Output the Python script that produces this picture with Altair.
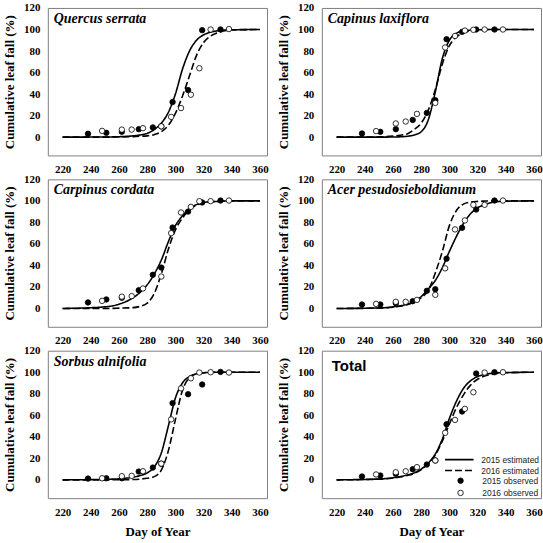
import altair as alt
import pandas as pd

# ---------------- data ----------------
panel_names = ["Quercus serrata", "Capinus laxiflora", "Carpinus cordata",
               "Acer pesudosieboldianum", "Sorbus alnifolia", "Total"]

x_ticks = [220, 240, 260, 280, 300, 320, 340, 360]
y_ticks = [0, 20, 40, 60, 80, 100, 120]

days_2015 = [238, 251, 262, 274, 284, 290, 298, 309, 319, 332]
days_2016 = [248, 262, 269, 277, 290, 297, 304, 311, 317, 325, 338]

curve_days = [220, 250, 260, 270, 275, 280, 285, 290, 295, 300, 305, 310,
              315, 320, 325, 330, 340, 360]

qs_est15 = [0, 0.1, 0.4, 1.2, 2, 3.5, 7, 13, 23, 40, 63, 80, 90, 95, 97.5, 98.8, 99.7, 100]
qs_est16 = [0, 0, 0.2, 0.5, 0.8, 1.2, 2.3, 5, 11, 22, 38, 57, 76, 88, 94, 97, 99.5, 100]
qs_obs15 = [3.1, 4, 5, 7.4, 9, 10, 32.6, 43.7, 99.4, 100]
qs_obs16 = [5.8, 7, 7, 8.3, 10, 18.8, 27, 39.4, 64, 100, 100.4]

cl_est15 = [0, 0, 0.1, 0.8, 2, 5, 16, 42, 73, 90, 96.5, 98.7, 99.4, 99.7, 99.9, 100, 100, 100]
cl_est16 = [0, 0.2, 1, 3, 7, 13, 25, 44, 68, 85, 93, 97, 98.8, 99.5, 99.8, 100, 100, 100]
cl_obs15 = [3.4, 4.9, 7.4, 16, 22.5, 34.3, 91, 97.8, 100, 100]
cl_obs16 = [5.6, 12.7, 14.5, 21.6, 31.8, 83.3, 94, 99, 99.7, 100, 100]

cc_est15 = [0, 1.5, 4, 10, 15, 22, 32, 45, 62, 77, 86, 93, 96.5, 98.5, 99.2, 99.5, 100, 100]
cc_est16 = [0, 0, 0.3, 0.8, 2, 5, 14, 32, 55, 73, 84, 92, 96, 98, 99, 99.5, 100, 100]
cc_obs15 = [5.6, 8.4, 10, 17, 31.3, 38, 75.2, 90, 98.5, 100.3]
cc_obs16 = [7.1, 11, 11.5, 18.6, 29.7, 70, 89.2, 94.4, 99.7, 99.7, 100.3]

ap_est15 = [0, 0.5, 1.5, 4, 6.5, 11, 18, 26, 38, 53, 67, 79, 88, 93.5, 96.5, 98.5, 99.7, 100]
ap_est16 = [0, 0.3, 1.2, 3.5, 6, 10, 17, 33, 53, 77, 91, 97, 98.8, 99.5, 99.8, 100, 100, 100]
ap_obs15 = [3.7, 3.7, 4.9, 6.8, 16.4, 17.9, 46.3, 75, 92, 100.3]
ap_obs16 = [4.3, 6.2, 6.2, 8, 12.7, 37.3, 73.5, 81.8, 96.3, 96.3, 100.3]

sa_est15 = [0, 0.5, 1, 2.5, 4, 6.5, 12, 25, 50, 76, 90, 96, 98.5, 99.5, 99.8, 100, 100, 100]
sa_est16 = [0, 0, 0.1, 0.3, 0.7, 1.5, 3, 9, 27, 56, 83, 95, 98.5, 99.5, 99.8, 100, 100, 100]
sa_obs15 = [1.2, 1.5, 1.5, 7.7, 11.4, 15, 71.3, 79.6, 88.6, 100.3]
sa_obs16 = [1.5, 3.4, 3.7, 8, 15.1, 56.2, 85, 94.4, 99.7, 100, 99.7]

tot_est15 = [0, 0.8, 2, 4.5, 6.5, 10, 15.5, 24, 38, 57, 73, 85, 92, 96, 98, 99, 99.7, 100]
tot_est16 = [0, 0.6, 1.7, 4, 6, 9.5, 15, 23, 36, 52, 67, 79, 88, 93.5, 96.5, 98, 99.5, 100]
tot_obs15 = [3.1, 4, 5.6, 9.9, 14.2, 18, 51.7, 63.5, 98.8, 100]
tot_obs16 = [5, 7.1, 8, 11.8, 18, 43.7, 55.7, 66, 81.4, 99.7, 100]

line_series = ["2015 estimated", "2016 estimated"]
point_series = ["2015 observed", "2016 observed"]

SERIF = "Liberation Serif"
SANS = "Liberation Sans"


def make_panel(name, est15, est16, obs15, obs16, last_row, legend_on, is_total):
    n = len(curve_days)
    curves = pd.DataFrame({
        "day": curve_days + curve_days,
        "pct": est15 + est16,
        "series": [line_series[0]] * n + [line_series[1]] * n,
    })
    obs = pd.DataFrame({
        "day": days_2015 + days_2016,
        "pct": obs15 + obs16,
        "series": [point_series[0]] * len(days_2015) + [point_series[1]] * len(days_2016),
    })
    x = alt.X("day:Q",
              scale=alt.Scale(domain=[209.5, 365], nice=False, zero=False),
              axis=alt.Axis(values=x_ticks, title="Day of  Year" if last_row else None,
                            titlePadding=8, labelPadding=8))
    y = alt.Y("pct:Q",
              scale=alt.Scale(domain=[-17, 120], nice=False, zero=False),
              axis=alt.Axis(values=y_ticks, title="Cumulative leaf fall (%)",
                            titlePadding=7, labelPadding=8))
    if legend_on:
        line_leg = alt.Legend(orient="none", legendX=131.5, legendY=102.8, title=None,
                              symbolType="M-2.6,0L2.6,0", symbolSize=121,
                              symbolStrokeWidth=1.6, symbolStrokeColor="black",
                              labelFont=SANS, labelFontSize=8.5, labelColor="#222222",
                              labelOffset=15.5, rowPadding=0, padding=0)
        pt_leg = alt.Legend(orient="none", legendX=135, legendY=126.2, title=None,
                            symbolType="circle", symbolSize=30,
                            symbolStrokeColor="black", symbolStrokeWidth=0.8,
                            labelFont=SANS, labelFontSize=8.5, labelColor="#222222",
                            labelOffset=17.5, rowPadding=2.3, padding=0)
    else:
        line_leg = None
        pt_leg = None
    lines = alt.Chart(curves).mark_line(color="black", strokeWidth=1.6,
                                        interpolate="monotone").encode(
        x=x, y=y,
        strokeDash=alt.StrokeDash("series:N",
                                  scale=alt.Scale(domain=line_series, range=[[1, 0], [7, 3]]),
                                  legend=line_leg),
    )
    pts = alt.Chart(obs).mark_circle(size=30, stroke="black", strokeWidth=0.8,
                                     opacity=1).encode(
        x=x, y=y,
        fill=alt.Fill("series:N",
                      scale=alt.Scale(domain=point_series, range=["black", "white"]),
                      legend=pt_leg),
    )
    if is_total:
        label = alt.Chart(pd.DataFrame({"t": [name]})).mark_text(
            font=SANS, fontSize=15, fontWeight="bold", align="left", baseline="middle",
            color="black").encode(x=alt.value(10), y=alt.value(15), text="t:N")
    else:
        label = alt.Chart(pd.DataFrame({"t": [name]})).mark_text(
            font=SERIF, fontSize=14, fontWeight="bold", fontStyle="italic", align="left",
            baseline="middle", color="black").encode(x=alt.value(6), y=alt.value(11), text="t:N")
    return alt.layer(lines, pts, label).properties(width=220, height=148)


panels = [
    make_panel(panel_names[0], qs_est15, qs_est16, qs_obs15, qs_obs16, False, False, False),
    make_panel(panel_names[1], cl_est15, cl_est16, cl_obs15, cl_obs16, False, False, False),
    make_panel(panel_names[2], cc_est15, cc_est16, cc_obs15, cc_obs16, False, False, False),
    make_panel(panel_names[3], ap_est15, ap_est16, ap_obs15, ap_obs16, False, False, False),
    make_panel(panel_names[4], sa_est15, sa_est16, sa_obs15, sa_obs16, True, False, False),
    make_panel(panel_names[5], tot_est15, tot_est16, tot_obs15, tot_obs16, True, True, True),
]

chart = alt.concat(*panels, columns=2, spacing={"row": 24, "column": 55},
                   bounds="flush").resolve_scale(
    strokeDash="independent", fill="independent"
).properties(
    padding={"left": 2, "top": 0, "right": 0, "bottom": 0},
    background="white",
).configure_axis(
    labelFont=SERIF, labelFontWeight="bold", labelFontSize=11, labelColor="black",
    titleFont=SERIF, titleFontWeight="bold", titleFontSize=13, titleColor="black",
    ticks=False, domain=False, grid=False,
).configure_view(stroke="#808080", strokeWidth=1)

chart.save("out.html", embed_options={"renderer": "svg", "actions": False})
